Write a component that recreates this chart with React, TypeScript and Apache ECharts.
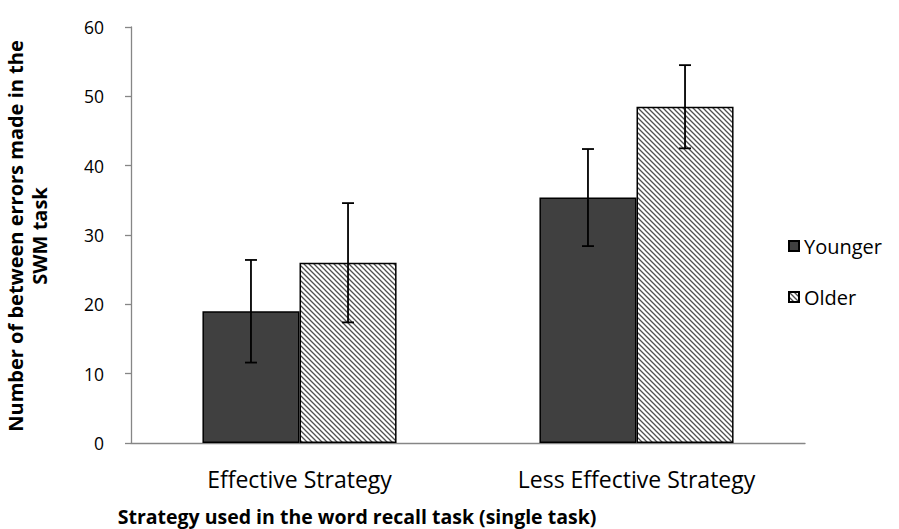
import React, { useEffect, useRef } from "react";
import * as echarts from "echarts";

const categories = ["Effective Strategy", "Less Effective Strategy"];
const seriesNames = ["Younger", "Older"];
const youngerValues = [19.0, 35.4];
const olderValues = [26.0, 48.5];
const youngerErrors = [7.4, 7.0];
const olderErrors = [8.6, 6.0];
const yTicks = [0, 10, 20, 30, 40, 50, 60];

const FONT = "Open Sans";
const CAT_GAP = 0.424;

function makeHatch(): HTMLCanvasElement {
  const c = document.createElement("canvas");
  c.width = 5;
  c.height = 5;
  const ctx = c.getContext("2d")!;
  ctx.fillStyle = "#ffffff";
  ctx.fillRect(0, 0, 5, 5);
  ctx.strokeStyle = "#505050";
  ctx.lineWidth = 1.3;
  ctx.beginPath();
  ctx.moveTo(-1, -1);
  ctx.lineTo(6, 6);
  ctx.moveTo(-1, 4);
  ctx.lineTo(1, 6);
  ctx.moveTo(4, -1);
  ctx.lineTo(6, 1);
  ctx.stroke();
  return c;
}

export default function App() {
  const ref = useRef<HTMLDivElement>(null);
  useEffect(() => {
    if (!ref.current) return;
    const chart = echarts.init(ref.current, undefined, { renderer: "svg" });
    const hatch = { image: makeHatch(), repeat: "repeat" } as any;

    const errSeries = (vals: number[], errs: number[], side: number) => ({
      type: "custom",
      name: "err" + side,
      silent: true,
      z: 10,
      data: vals.map((v, i) => [i, v - errs[i], v + errs[i]]),
      renderItem: (params: any, api: any) => {
        const idx = api.value(0);
        const lo = api.coord([idx, api.value(1)]);
        const hi = api.coord([idx, api.value(2)]);
        const band = api.size([1, 0])[0];
        const bw = (band * (1 - CAT_GAP)) / 2;
        const x = lo[0] + (side * bw) / 2;
        const cap = 6;
        const st = { stroke: "#000", lineWidth: 1.8 };
        return {
          type: "group",
          children: [
            { type: "line", shape: { x1: x, y1: lo[1], x2: x, y2: hi[1] }, style: st },
            { type: "line", shape: { x1: x - cap, y1: lo[1], x2: x + cap, y2: lo[1] }, style: st },
            { type: "line", shape: { x1: x - cap, y1: hi[1], x2: x + cap, y2: hi[1] }, style: st },
          ],
        };
      },
    });

    chart.setOption({
      animation: false,
      backgroundColor: "#ffffff",
      textStyle: { fontFamily: FONT },
      grid: { left: 131, right: 94, top: 27, bottom: 86 },
      legend: {
        orient: "vertical",
        left: 783,
        top: 231,
        itemWidth: 10,
        itemHeight: 10,
        itemGap: 31,
        icon: "rect",
        data: seriesNames,
        textStyle: { fontFamily: FONT, fontSize: 20, color: "#000" },
        selectedMode: false,
      },
      xAxis: {
        type: "category",
        data: categories,
        axisLine: { lineStyle: { color: "#868686", width: 1.3 } },
        axisTick: { length: 8, lineStyle: { color: "#868686", width: 1.3 } },
        axisLabel: { color: "#000", fontSize: 23, fontFamily: FONT, margin: 24 },
      },
      yAxis: {
        type: "value",
        min: 0,
        max: 60,
        interval: 10,
        splitLine: { show: false },
        axisLine: { show: true, lineStyle: { color: "#868686", width: 1.3 } },
        axisTick: { show: true, length: 6, lineStyle: { color: "#868686", width: 1.3 } },
        axisLabel: {
          color: "#000",
          fontSize: 17.5,
          fontFamily: FONT,
          margin: 27,
          formatter: (v: number) => (yTicks.includes(v) ? String(v) : ""),
        },
      },
      series: [
        {
          name: seriesNames[0],
          type: "bar",
          data: youngerValues,
          barGap: "0%",
          barCategoryGap: CAT_GAP * 100 + "%",
          itemStyle: { color: "#404040", borderColor: "#000", borderWidth: 1.5 },
        },
        {
          name: seriesNames[1],
          type: "bar",
          data: olderValues,
          barGap: "0%",
          barCategoryGap: CAT_GAP * 100 + "%",
          itemStyle: { color: hatch, borderColor: "#000", borderWidth: 1.5 },
        },
        errSeries(youngerValues, youngerErrors, -1),
        errSeries(olderValues, olderErrors, 1),
      ],
      graphic: [
        {
          type: "text",
          x: 27,
          y: 236,
          rotation: Math.PI / 2,
          style: {
            text: "Number of between errors made in the\nSWM task",
            fontFamily: FONT,
            fontWeight: "bold",
            fontSize: 20,
            lineHeight: 24,
            fill: "#000",
            align: "center",
            verticalAlign: "middle",
          },
        },
        {
          type: "text",
          x: 357,
          y: 516,
          style: {
            text: "Strategy used in the word recall task (single task)",
            fontFamily: FONT,
            fontWeight: "bold",
            fontSize: 19.5,
            fill: "#000",
            align: "center",
            verticalAlign: "middle",
          },
        },
      ],
    });
    return () => chart.dispose();
  }, []);
  return (
    <div
      ref={ref}
      style={{ position: "fixed", left: 0, top: 0, width: 899, height: 529 }}
    />
  );
}
